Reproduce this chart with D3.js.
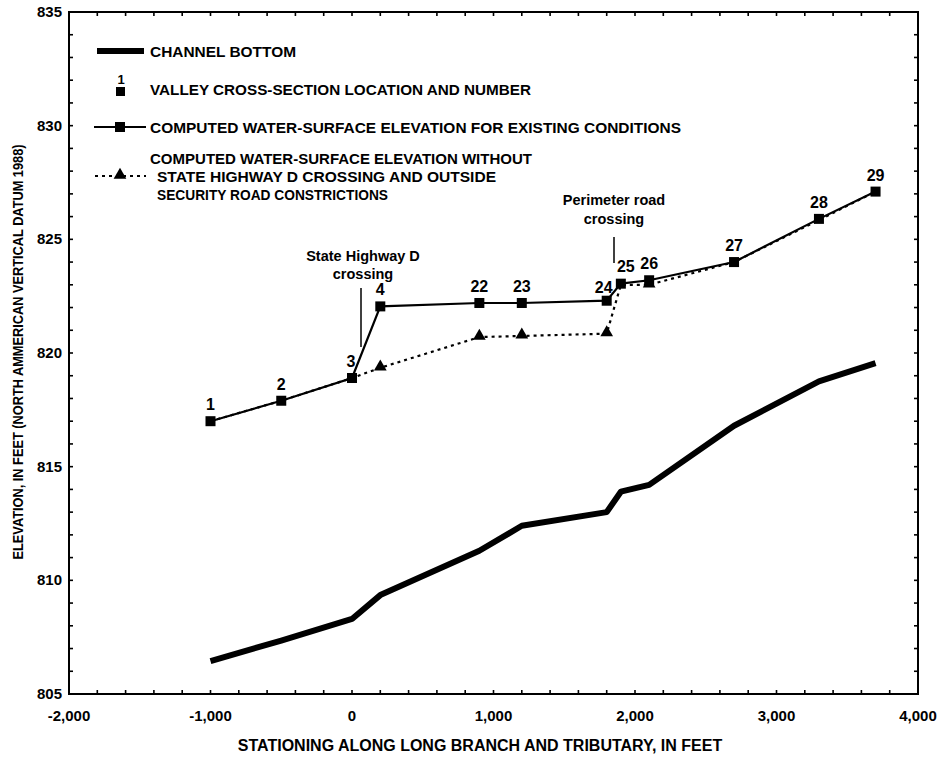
<!DOCTYPE html>
<html>
<head>
<meta charset="utf-8">
<script src="https://cdn.jsdelivr.net/npm/d3@7"></script>
<style>
  html, body { margin: 0; padding: 0; background: #fff; }
  svg { display: block; }
  text { font-family: "Liberation Sans", Arial, Helvetica, sans-serif; font-weight: bold; fill: #000; }
</style>
</head>
<body>
<svg id="chart" width="941" height="757"></svg>
<script>
// Stationing (feet) of each valley cross section
const sectionIds   = ["1", "2", "3", "4", "22", "23", "24", "25", "26", "27", "28", "29"];
const stations     = [-1000, -500, 0, 200, 900, 1200, 1800, 1900, 2100, 2700, 3300, 3700];
// Computed water-surface elevation, existing conditions (feet)
const wsExisting   = [817.0, 817.9, 818.9, 822.05, 822.2, 822.2, 822.3, 823.05, 823.2, 824.0, 825.9, 827.1];
// Computed water-surface elevation without the road constrictions (feet)
const wsWithout    = [817.0, 817.9, 818.9, 819.35, 820.7, 820.75, 820.85, 823.0, 823.0, 824.0, 825.85, 827.1];
// Channel-bottom profile
const bedStations  = [-1000, -500, 0, 200, 900, 1200, 1800, 1900, 2100, 2700, 3300, 3700];
const bedElevation = [806.45, 807.35, 808.3, 809.35, 811.3, 812.4, 813.0, 813.9, 814.2, 816.8, 818.75, 819.55];
// Axis ticks
const xTickValues  = [-2000, -1000, 0, 1000, 2000, 3000, 4000];
const yTickValues  = [805, 810, 815, 820, 825, 830, 835];

const svg = d3.select("#chart");
const x = d3.scaleLinear().domain([-2000, 4000]).range([69, 918]);
const y = d3.scaleLinear().domain([805, 835]).range([694, 12]);
const fmt = d3.formatLocale({ decimal: ".", thousands: ",", grouping: [3], currency: ["$", ""], minus: "-" }).format(",");

// Minor ticks on all four sides, pointing inward
const xMinor = d3.range(-2000, 4001, 200);
const yMinor = d3.range(805, 836, 1);
const tickLen = 4;
const ticks = svg.append("g").attr("stroke", "#000").attr("stroke-width", 1.6);
xMinor.forEach(v => {
  ticks.append("line").attr("x1", x(v)).attr("x2", x(v)).attr("y1", y(805)).attr("y2", y(805) - tickLen);
  ticks.append("line").attr("x1", x(v)).attr("x2", x(v)).attr("y1", y(835)).attr("y2", y(835) + tickLen);
});
yMinor.forEach(v => {
  ticks.append("line").attr("y1", y(v)).attr("y2", y(v)).attr("x1", x(-2000)).attr("x2", x(-2000) + tickLen);
  ticks.append("line").attr("y1", y(v)).attr("y2", y(v)).attr("x1", x(4000)).attr("x2", x(4000) - tickLen);
});

// Frame
svg.append("rect")
  .attr("x", x(-2000)).attr("y", y(835))
  .attr("width", x(4000) - x(-2000)).attr("height", y(805) - y(835))
  .attr("fill", "none").attr("stroke", "#000").attr("stroke-width", 2);

// Tick labels
svg.append("g").selectAll("text").data(xTickValues).join("text")
  .attr("x", d => x(d)).attr("y", 721)
  .attr("text-anchor", "middle").attr("font-size", 15)
  .text(d => fmt(d));
svg.append("g").selectAll("text").data(yTickValues).join("text")
  .attr("x", 62).attr("y", d => y(d) + 5)
  .attr("text-anchor", "end").attr("font-size", 15)
  .text(d => d);

// Axis titles
svg.append("text").attr("x", 480).attr("y", 751).attr("text-anchor", "middle").attr("font-size", 16)
  .text("STATIONING ALONG LONG BRANCH AND TRIBUTARY, IN FEET");
svg.append("text").attr("transform", "translate(23,352) rotate(-90)").attr("text-anchor", "middle").attr("font-size", 14.5)
  .attr("textLength", 415).attr("lengthAdjust", "spacingAndGlyphs")
  .text("ELEVATION, IN FEET (NORTH AMMERICAN VERTICAL DATUM 1988)");

// Channel bottom
const bed = bedStations.map((s, i) => [s, bedElevation[i]]);
const line = d3.line().x(d => x(d[0])).y(d => y(d[1]));
svg.append("path").datum(bed).attr("d", line)
  .attr("fill", "none").attr("stroke", "#000").attr("stroke-width", 6).attr("stroke-linejoin", "round");

// Water surface without constrictions (dotted, triangles)
const without = stations.map((s, i) => [s, wsWithout[i]]);
svg.append("path").datum(without).attr("d", line)
  .attr("fill", "none").attr("stroke", "#000").attr("stroke-width", 2.2).attr("stroke-dasharray", "3,4");
const tri = d3.symbol().type(d3.symbolTriangle).size(70);
svg.append("g").selectAll("path").data(without.filter((d, i) => ![0, 1, 2, 7, 9, 10, 11].includes(i))).join("path")
  .attr("transform", d => `translate(${x(d[0])},${y(d[1]) - 1})`).attr("d", tri).attr("fill", "#000");

// Water surface for existing conditions (solid, squares)
const existing = stations.map((s, i) => [s, wsExisting[i]]);
svg.append("path").datum(existing).attr("d", line)
  .attr("fill", "none").attr("stroke", "#000").attr("stroke-width", 2.2);
const sq = 10;
svg.append("g").selectAll("rect").data(existing).join("rect")
  .attr("x", d => x(d[0]) - sq / 2).attr("y", d => y(d[1]) - sq / 2)
  .attr("width", sq).attr("height", sq).attr("fill", "#000");

// Cross-section numbers
const labelShift = { "24": [-3, 3], "25": [5, -1], "3": [-1, 0] };
svg.append("g").selectAll("text").data(existing).join("text")
  .attr("x", (d, i) => x(d[0]) + (labelShift[sectionIds[i]] || [0, 0])[0])
  .attr("y", (d, i) => y(d[1]) - 11 + (labelShift[sectionIds[i]] || [0, 0])[1])
  .attr("text-anchor", "middle").attr("font-size", 16)
  .text((d, i) => sectionIds[i]);

// Road-crossing notes
const notes = svg.append("g").attr("font-size", 14.5).attr("text-anchor", "middle");
notes.append("text").attr("x", 363).attr("y", 261).text("State Highway D");
notes.append("text").attr("x", 363).attr("y", 279).text("crossing");
notes.append("text").attr("x", 614).attr("y", 205).text("Perimeter road");
notes.append("text").attr("x", 614).attr("y", 224).text("crossing");
svg.append("line").attr("x1", 361).attr("x2", 361).attr("y1", 288).attr("y2", 347).attr("stroke", "#000").attr("stroke-width", 1.5);
svg.append("line").attr("x1", 614).attr("x2", 614).attr("y1", 237).attr("y2", 263).attr("stroke", "#000").attr("stroke-width", 1.5);

// Legend
const lg = svg.append("g");
function legendText(tx, ty, len, str) {
  lg.append("text").attr("x", tx).attr("y", ty).attr("font-size", 15.5)
    .attr("textLength", len).attr("lengthAdjust", "spacingAndGlyphs").text(str);
}
lg.append("line").attr("x1", 97).attr("x2", 144).attr("y1", 51).attr("y2", 51).attr("stroke", "#000").attr("stroke-width", 6);
legendText(150, 56.5, 146, "CHANNEL BOTTOM");

lg.append("text").attr("x", 121).attr("y", 84).attr("font-size", 13).attr("text-anchor", "middle").text("1");
lg.append("rect").attr("x", 116).attr("y", 87).attr("width", 9).attr("height", 9).attr("fill", "#000");
legendText(150, 95, 381, "VALLEY CROSS-SECTION LOCATION AND NUMBER");

lg.append("line").attr("x1", 94).attr("x2", 146).attr("y1", 127).attr("y2", 127).attr("stroke", "#000").attr("stroke-width", 2);
lg.append("rect").attr("x", 115).attr("y", 122).attr("width", 10).attr("height", 10).attr("fill", "#000");
legendText(150, 132.5, 531, "COMPUTED WATER-SURFACE ELEVATION FOR EXISTING CONDITIONS");

lg.append("line").attr("x1", 95).attr("x2", 146).attr("y1", 176).attr("y2", 176).attr("stroke", "#000").attr("stroke-width", 2.2).attr("stroke-dasharray", "3,4");
lg.append("path").attr("transform", "translate(120,175)").attr("d", tri).attr("fill", "#000");
legendText(150, 163.5, 382, "COMPUTED WATER-SURFACE ELEVATION WITHOUT");
legendText(157, 181.5, 339, "STATE HIGHWAY D CROSSING AND OUTSIDE");
legendText(157, 199.5, 231, "SECURITY ROAD CONSTRICTIONS");
</script>
</body>
</html>
